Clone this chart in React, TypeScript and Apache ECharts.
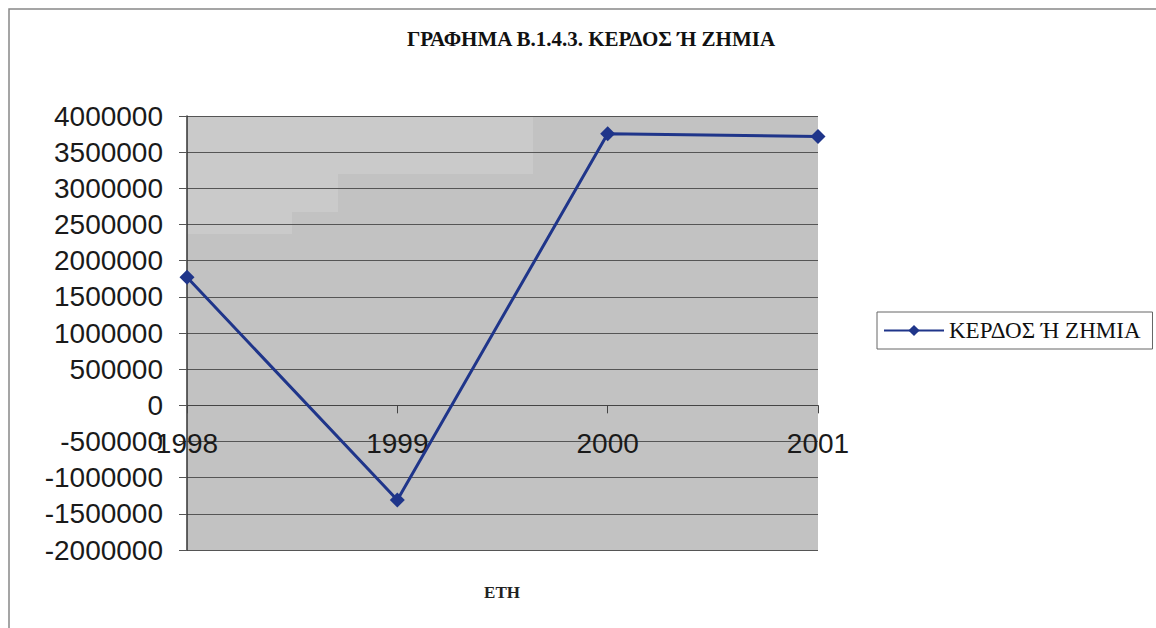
import React, { useEffect, useRef } from "react";
import * as echarts from "echarts";

const years = ["1998", "1999", "2000", "2001"];
const profitLoss = [1770000, -1310000, 3755000, 3715000];
const seriesName = "ΚΕΡΔΟΣ Ή ΖΗΜΙΑ";
const chartTitle = "ΓΡΑΦΗΜΑ Β.1.4.3. ΚΕΡΔΟΣ Ή ΖΗΜΙΑ";
const xAxisTitle = "ΕΤΗ";
const yMin = -2000000;
const yMax = 4000000;
const yStep = 500000;

export default function App() {
  const ref = useRef<HTMLDivElement>(null);
  useEffect(() => {
    if (!ref.current) return;
    const chart = echarts.init(ref.current, undefined, { renderer: "svg" });
    const lineColor = "#1f358a";
    const gridTop = 116;
    const gridBottom = 78;
    const gridHeight = 628 - gridTop - gridBottom;
    const zeroOffset = (gridHeight * (0 - yMin)) / (yMax - yMin);
    chart.setOption({
      animation: false,
      backgroundColor: "#ffffff",
      title: {
        text: chartTitle,
        left: 586,
        top: 23,
        textAlign: "center",
        textStyle: {
          fontFamily: "Liberation Serif",
          fontWeight: "bold",
          fontSize: 21,
          color: "#111",
        },
      },
      grid: {
        left: 187,
        right: 338,
        top: gridTop,
        bottom: gridBottom,
        show: true,
        backgroundColor: "#c2c2c2",
        borderWidth: 0,
      },
      legend: {
        left: 877,
        top: 312,
        orient: "vertical",
        padding: [7, 12, 7, 6],
        borderColor: "#666",
        borderWidth: 1,
        itemWidth: 60,
        itemHeight: 14,
        textStyle: {
          fontFamily: "Liberation Serif",
          fontSize: 23,
          color: "#111",
        },
        data: [seriesName],
      },
      graphic: [
        {
          type: "rect",
          shape: { x: 9, y: 9, width: 1200, height: 700 },
          style: { fill: "none", stroke: "#888", lineWidth: 1.5 },
          z: 0,
          silent: true,
        },
        {
          type: "polygon",
          shape: {
            points: [
              [188, 117],
              [533, 117],
              [533, 174],
              [338, 174],
              [338, 212],
              [292, 212],
              [292, 234],
              [188, 234],
            ],
          },
          style: { fill: "#cacaca" },
          z: 1,
          silent: true,
        },
        {
          type: "text",
          x: 502,
          y: 592,
          style: {
            text: xAxisTitle,
            textAlign: "center",
            textVerticalAlign: "middle",
            fontFamily: "Liberation Serif",
            fontWeight: "bold",
            fontSize: 17,
            fill: "#222",
          },
        },
      ],
      xAxis: {
        type: "category",
        data: years,
        boundaryGap: false,
        position: "bottom",
        offset: -zeroOffset,
        z: 3,
        axisLine: { onZero: false, lineStyle: { color: "#444", width: 1 } },
        axisTick: { show: true, inside: false, length: 8, lineStyle: { color: "#444" } },
        axisLabel: {
          margin: 24,
          fontFamily: "Liberation Sans",
          fontSize: 28,
          color: "#1a1a1a",
          showMinLabel: true,
          showMaxLabel: true,
          interval: 0,
        },
        splitLine: { show: false },
      },
      yAxis: {
        type: "value",
        min: yMin,
        max: yMax,
        interval: yStep,
        z: 3,
        axisLine: { show: true, lineStyle: { color: "#333", width: 1.5 } },
        axisTick: { show: true, length: 8, lineStyle: { color: "#555" } },
        axisLabel: {
          margin: 24,
          fontFamily: "Liberation Sans",
          fontSize: 28,
          color: "#1a1a1a",
          formatter: (v: number) => String(v),
        },
        splitLine: { show: true, lineStyle: { color: "#555", width: 1 } },
      },
      series: [
        {
          name: seriesName,
          type: "line",
          data: profitLoss,
          symbol: "diamond",
          symbolSize: 15,
          lineStyle: { color: lineColor, width: 3 },
          itemStyle: { color: lineColor },
          z: 5,
        },
      ],
    });
    return () => chart.dispose();
  }, []);
  return (
    <div
      ref={ref}
      style={{ position: "fixed", left: 0, top: 0, width: 1156, height: 628 }}
    />
  );
}
